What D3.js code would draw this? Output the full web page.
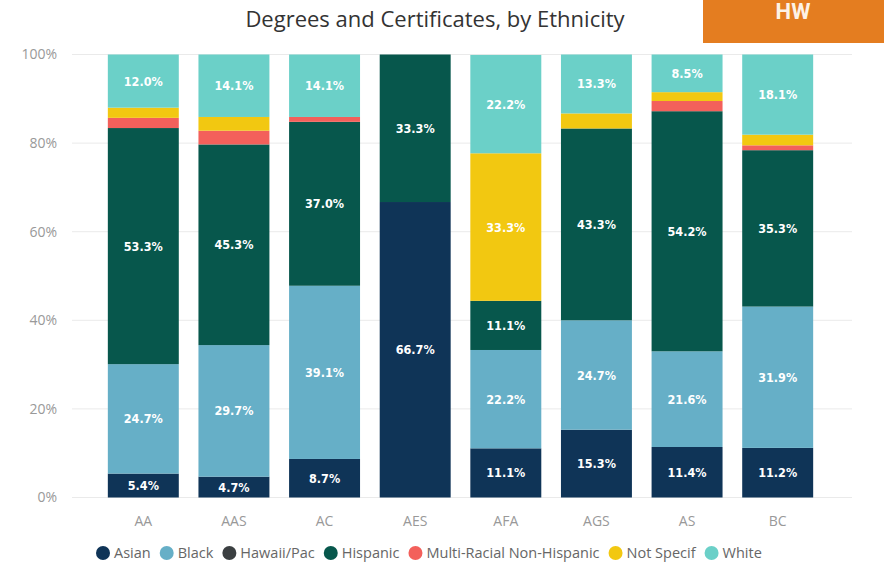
<!DOCTYPE html>
<html lang="en">
<head>
    <meta charset="UTF-8">
    <title>Degrees and Certificates, by Ethnicity</title>
    <script src="https://d3js.org/d3.v7.min.js"></script>
    <style>
        body { margin: 0; background: #fff; }
    </style>
</head>
<body>
    <script>
        var categories = ["AA", "AAS", "AC", "AES", "AFA", "AGS", "AS", "BC"];
        var ethnicities = ["Asian", "Black", "Hawaii/Pac", "Hispanic", "Multi-Racial Non-Hispanic", "Not Specif", "White"];
        var asian     = [5.4, 4.7, 8.7, 66.7, 11.1, 15.3, 11.4, 11.2];
        var black     = [24.7, 29.7, 39.1, 0, 22.2, 24.7, 21.6, 31.9];
        var hawaii    = [0, 0, 0, 0, 0, 0, 0, 0];
        var hispanic  = [53.3, 45.3, 37.0, 33.3, 11.1, 43.3, 54.2, 35.3];
        var multi     = [2.3, 3.1, 1.1, 0, 0, 0, 2.3, 1.1];
        var notSpecif = [2.3, 3.1, 0, 0, 33.3, 3.4, 2.0, 2.4];
        var white     = [12.0, 14.1, 14.1, 0, 22.2, 13.3, 8.5, 18.1];
        var yTicks = [0, 20, 40, 60, 80, 100];

        var colors = ["#0f3457", "#66afc7", "#3b3f41", "#07574c", "#f3605b", "#f2c811", "#6bd0c8"];

        var w = 884;
        var h = 566;

        var svg = d3.select("body")
            .append("svg")
            .attr("width", w)
            .attr("height", h);

        // build rows for the stack
        var seriesValues = [asian, black, hawaii, hispanic, multi, notSpecif, white];
        var rows = categories.map(function(c, i) {
            var r = { cat: c };
            ethnicities.forEach(function(e, j) { r[e] = seriesValues[j][i]; });
            return r;
        });
        var stacked = d3.stack().keys(ethnicities)(rows);

        var x = d3.scaleBand()
            .domain(categories)
            .range([98, 823])
            .paddingInner(0.217)
            .paddingOuter(0.1085);

        var y = d3.scaleLinear()
            .domain([0, 100])
            .range([497.5, 54.5]);

        // orange HW badge
        svg.append("rect")
            .attr("x", 703).attr("y", 0)
            .attr("width", 181).attr("height", 43)
            .attr("fill", "#e47d20");
        svg.append("text")
            .attr("x", 793).attr("y", 19)
            .attr("text-anchor", "middle")
            .attr("font-family", "Roboto, sans-serif")
            .attr("font-weight", "bold")
            .attr("font-size", "22px")
            .attr("fill", "#fdf2e6")
            .text("HW");

        // title
        svg.append("text")
            .attr("x", 435).attr("y", 27)
            .attr("text-anchor", "middle")
            .attr("font-family", "'Open Sans', sans-serif")
            .attr("font-size", "22px")
            .attr("fill", "#333")
            .text("Degrees and Certificates, by Ethnicity");

        // gridlines
        svg.append("g")
            .selectAll("line")
            .data(yTicks)
            .enter().append("line")
            .attr("x1", 72).attr("x2", 852)
            .attr("y1", d => y(d)).attr("y2", d => y(d))
            .attr("stroke", "#eaeaea")
            .attr("stroke-width", 1);

        // y axis
        var yAxis = svg.append("g")
            .attr("transform", "translate(60,0)")
            .call(d3.axisLeft(y).tickValues(yTicks).tickSize(0).tickPadding(3).tickFormat(d => d + "%"));
        yAxis.select(".domain").remove();
        yAxis.selectAll("text")
            .attr("font-family", "'Open Sans', sans-serif")
            .attr("font-size", "14px")
            .attr("fill", "#999");

        // x axis
        var xAxis = svg.append("g")
            .attr("transform", "translate(0,506)")
            .call(d3.axisBottom(x).tickSize(0).tickPadding(10));
        xAxis.select(".domain").remove();
        xAxis.selectAll("text")
            .attr("font-family", "'Open Sans', sans-serif")
            .attr("font-size", "14px")
            .attr("fill", "#999");

        // bars
        var layer = svg.append("g")
            .selectAll("g")
            .data(stacked)
            .enter().append("g")
            .attr("fill", (d, i) => colors[i]);

        layer.selectAll("rect")
            .data(d => d)
            .enter().append("rect")
            .attr("x", d => x(d.data.cat))
            .attr("y", d => y(d[1]))
            .attr("width", x.bandwidth())
            .attr("height", d => y(d[0]) - y(d[1]));

        // data labels
        var labels = [];
        stacked.forEach(function(s) {
            s.forEach(function(d) {
                var v = d[1] - d[0];
                if (v >= 4.5) labels.push({ cat: d.data.cat, mid: (d[0] + d[1]) / 2, v: v });
            });
        });
        svg.append("g")
            .selectAll("text")
            .data(labels)
            .enter().append("text")
            .attr("x", d => x(d.cat) + x.bandwidth() / 2)
            .attr("y", d => y(d.mid))
            .attr("dy", "0.36em")
            .attr("text-anchor", "middle")
            .attr("font-family", "'DejaVu Sans Condensed', 'DejaVu Sans', sans-serif")
            .attr("font-weight", "bold")
            .attr("font-size", "12.5px")
            .attr("fill", "#fff")
            .text(d => d.v.toFixed(1) + "%");

        // legend
        var legend = svg.append("g").attr("transform", "translate(0,553)");
        var lx = 96;
        ethnicities.forEach(function(e, i) {
            legend.append("circle")
                .attr("cx", lx + 7).attr("cy", 0).attr("r", 7)
                .attr("fill", colors[i]);
            var t = legend.append("text")
                .attr("x", lx + 18).attr("y", 0)
                .attr("dy", "0.35em")
                .attr("font-family", "'Open Sans', sans-serif")
                .attr("font-size", "14.5px")
                .attr("fill", "#666")
                .text(e);
            lx += 18 + t.node().getComputedTextLength() + 9;
        });
    </script>
</body>
</html>
